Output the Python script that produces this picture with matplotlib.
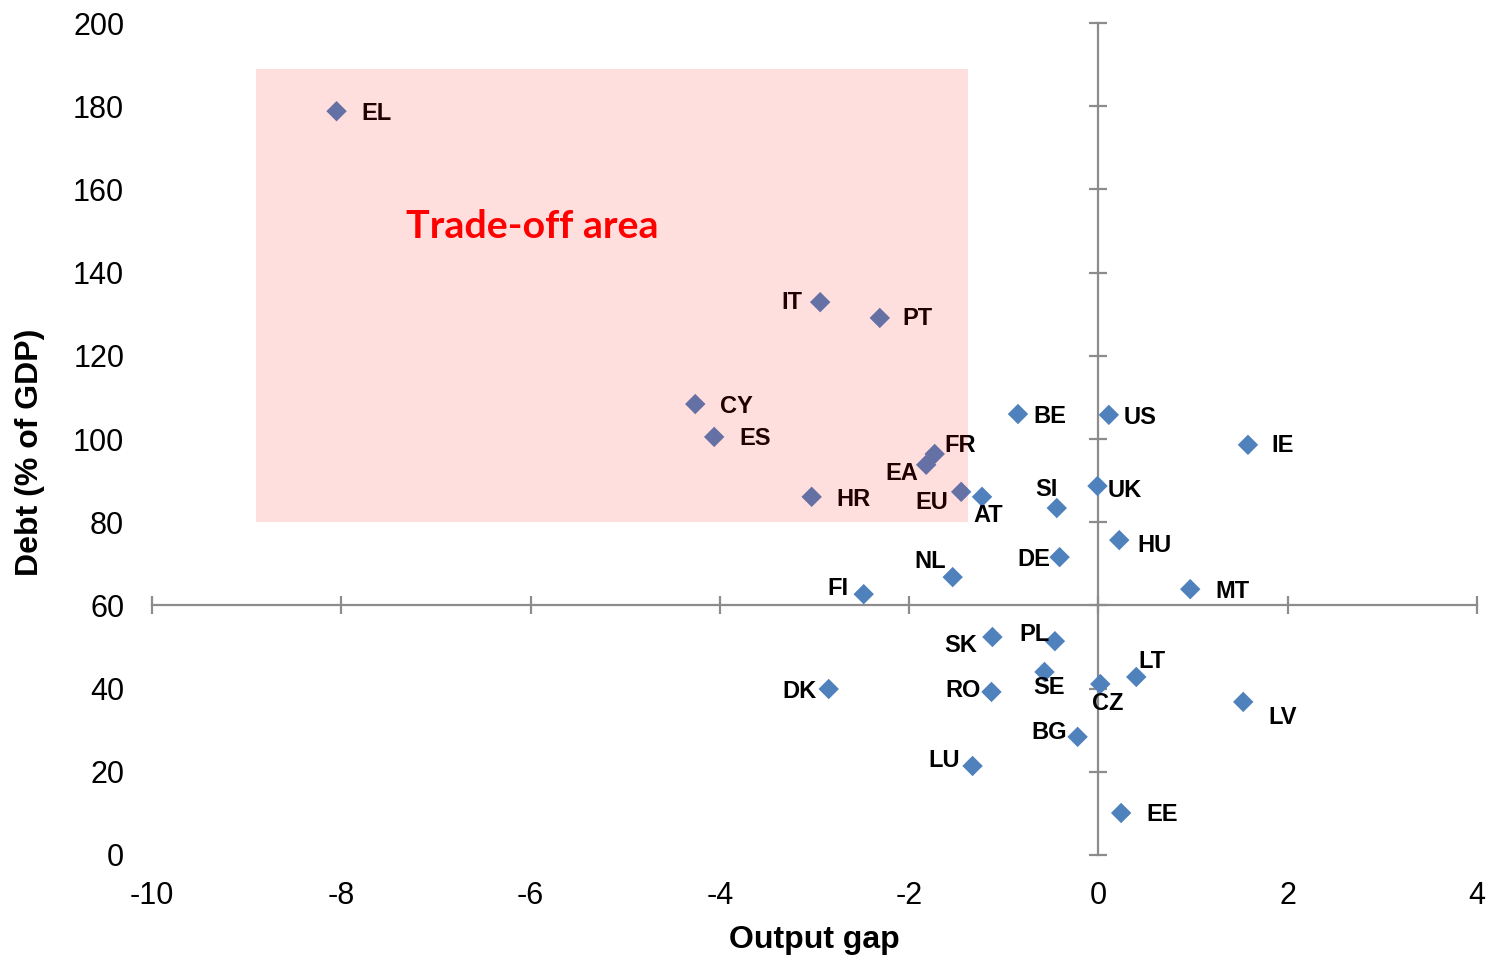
import matplotlib
matplotlib.use("Agg")
import matplotlib.pyplot as plt
from matplotlib.patches import Rectangle

# Country codes, output gap (% of potential) and general government debt (% of GDP)
countries = ["EL", "IT", "PT", "CY", "ES", "FR", "EA", "HR", "EU", "AT",
             "BE", "US", "IE", "UK", "SI", "HU", "DE", "NL", "FI", "MT",
             "SK", "PL", "SE", "LT", "CZ", "DK", "RO", "LV", "BG", "LU", "EE"]
output_gap = [-8.05, -2.94, -2.31, -4.26, -4.06, -1.73, -1.82, -3.03, -1.45, -1.23,
              -0.85, 0.11, 1.58, -0.01, -0.44, 0.22, -0.41, -1.54, -2.48, 0.97,
              -1.12, -0.46, -0.57, 0.40, 0.02, -2.85, -1.13, 1.53, -0.22, -1.33, 0.24]
debt = [178.8, 132.9, 129.1, 108.4, 100.5, 96.4, 93.8, 86.1, 87.3, 86.1,
        106.0, 105.8, 98.6, 88.7, 83.4, 75.7, 71.6, 66.8, 62.7, 63.9,
        52.4, 51.4, 44.0, 42.8, 41.1, 39.9, 39.2, 36.8, 28.4, 21.4, 10.1]

x_ticks = [-10, -8, -6, -4, -2, 0, 2, 4]
y_ticks = [0, 20, 40, 60, 80, 100, 120, 140, 160, 180, 200]

# Shaded region: output gap between -8.9 and -1.38, debt between 80 and 189
zone_x = [-8.9, -1.38]
zone_y = [80, 189]

# Label placement (pixel offsets from the marker, horizontal alignment)
label_pos = {
    "EL": (25, 0, "left"), "IT": (-18, -2, "right"), "PT": (23, -1, "left"),
    "CY": (25, 0, "left"), "ES": (25, 0, "left"), "FR": (10, -10, "left"),
    "EA": (-8, 7, "right"), "HR": (25, 1, "left"), "EU": (-13, 9, "right"),
    "AT": (-9, 17, "left"), "BE": (15, 0, "left"), "US": (15, 1, "left"),
    "IE": (23, -1, "left"), "UK": (10, 2, "left"), "SI": (1, -21, "right"),
    "HU": (18, 3, "left"), "DE": (-9, 0, "right"), "NL": (-7, -18, "right"),
    "FI": (-15, -8, "right"), "MT": (25, 0, "left"), "SK": (-15, 6, "right"),
    "PL": (-5, -9, "right"), "SE": (-11, 14, "left"), "LT": (2, -17, "left"),
    "CZ": (-8, 17, "left"), "DK": (-12, 0, "right"), "RO": (-11, -3, "right"),
    "LV": (25, 14, "left"), "BG": (-11, -6, "right"), "LU": (-13, -7, "right"),
    "EE": (25, 0, "left"),
}
LABEL_SHIFT = 2  # extra downward nudge (px) so cap letters sit level with the marker

DPI = 100
PX = 72.0 / DPI  # points per pixel
FONT = "Liberation Sans"
AXIS_GREY = "#8c8c8c"

fig = plt.figure(figsize=(14.93, 9.56), dpi=DPI)
ax = fig.add_axes([152 / 1493, 1 - 855 / 956, 1325 / 1493, 832 / 956])
ax.set_xlim(x_ticks[0], x_ticks[-1])
ax.set_ylim(y_ticks[0], y_ticks[-1])

# Axes cross at x = 0 and y = 60
for side in ("top", "right"):
    ax.spines[side].set_visible(False)
ax.spines["left"].set_position(("data", 0))
ax.spines["bottom"].set_position(("data", 60))
for side in ("left", "bottom"):
    ax.spines[side].set_color(AXIS_GREY)
    ax.spines[side].set_linewidth(1.6)
ax.set_xticks(x_ticks)
ax.set_yticks(y_ticks)
ax.tick_params(direction="inout", length=13, width=1.6, color=AXIS_GREY,
               labelleft=False, labelbottom=False)

# Tick labels along the outer edges
sx = ax.secondary_xaxis("bottom")
sx.spines["bottom"].set_visible(False)
sx.set_xticks(x_ticks)
sx.set_xticklabels([str(v) for v in x_ticks], fontsize=22, family=FONT)
sx.tick_params(length=0, pad=18.5)

sy = ax.secondary_yaxis("left")
sy.spines["left"].set_visible(False)
sy.set_yticks(y_ticks)
sy.set_yticklabels([str(v) for v in y_ticks], fontsize=22, family=FONT)
sy.tick_params(length=0, pad=20)

# Scatter points
ax.scatter(output_gap, debt, marker="D", s=10.4 ** 2, color="#4F81BD",
           edgecolor="none", zorder=3, clip_on=False)

for name, gx, dy in zip(countries, output_gap, debt):
    ox, oy, ha = label_pos[name]
    ax.annotate(name, (gx, dy), xytext=(ox * PX, -(oy + LABEL_SHIFT) * PX),
                textcoords="offset points", ha=ha, va="center",
                fontsize=17, fontweight="bold", family=FONT, color="black",
                zorder=4)

# Translucent red overlay marking the trade-off zone
ax.add_patch(Rectangle((zone_x[0], zone_y[0]), zone_x[1] - zone_x[0],
                       zone_y[1] - zone_y[0], facecolor="red", alpha=0.13,
                       edgecolor="none", zorder=5))
ax.text(-7.32, 151.0, "Trade-off area", color="red", fontsize=28.4,
        fontweight="bold", family="Lato", ha="left", va="center", zorder=6)

# Axis titles
ax.set_xlabel("Output gap", fontsize=23, fontweight="bold", family=FONT)
ax.xaxis.set_label_coords(0.5, (855 - 940) / 832)
ax.xaxis.label.set_va("center")
ax.set_ylabel("Debt (% of GDP)", fontsize=23, fontweight="bold", family=FONT)
ax.yaxis.set_label_coords((30 - 152) / 1325, (855 - 452) / 832)
ax.yaxis.label.set_va("center")

fig.savefig("out.png", dpi=DPI)
